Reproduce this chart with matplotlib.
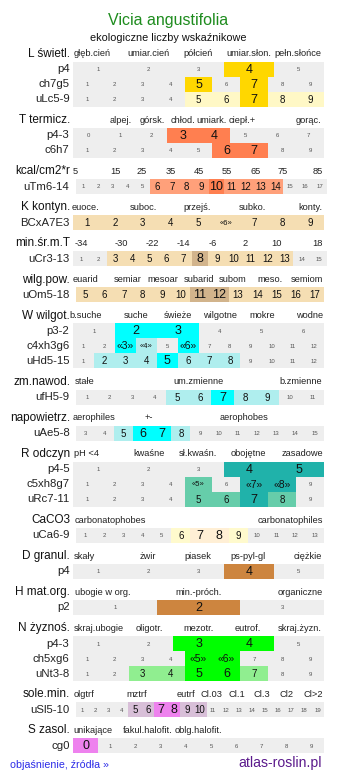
import numpy as np
import matplotlib.pyplot as plt

plt.rcParams['font.family'] = ['Liberation Sans', 'DejaVu Sans']

#%% data

title = 'Vicia angustifolia'
subtitle = 'ekologiczne liczby wskaźnikowe'

group_names = ['L świetl.', 'T termicz.', 'kcal/cm2*r', 'K kontyn.', 'min.śr.m.T',
               'wilg.pow.', 'W wilgot.', 'zm.nawod.', 'napowietrz.', 'R odczyn',
               'CaCO3', 'D granul.', 'H mat.org.', 'N żyznoś.', 'sole.min.', 'S zasol.']

group_ticks = [
    ['głęb.cień', 'umiar.cień', 'półcień', 'umiar.słon.', 'pełn.słońce'],
    ['alpej.', 'górsk.', 'chłod.', 'umiark.', 'ciepł.+', 'gorąc.'],
    ['5', '15', '25', '35', '45', '55', '65', '75', '85'],
    ['euoce.', 'suboc.', 'przejś.', 'subko.', 'konty.'],
    ['-34', '-30', '-22', '-14', '-6', '2', '10', '18'],
    ['euarid', 'semiar', 'mesoar', 'subarid', 'subom', 'meso.', 'semiom'],
    ['b.suche', 'suche', 'świeże', 'wilgotne', 'mokre', 'wodne'],
    ['stałe', 'um.zmienne', 'b.zmienne'],
    ['aerophiles', '+-', 'aerophobes'],
    ['pH <4', 'kwaśne', 'sł.kwaśn.', 'obojętne', 'zasadowe'],
    ['carbonatophobes', 'carbonatophiles'],
    ['skały', 'żwir', 'piasek', 'ps-pyl-gl', 'ciężkie'],
    ['ubogie w org.', 'min.-próch.', 'organiczne'],
    ['skraj.ubogie', 'oligotr.', 'mezotr.', 'eutrof.', 'skraj.żyzn.'],
    ['olgtrf', 'mztrf', 'eutrf', 'Cl.03', 'Cl.1', 'Cl.3', 'Cl2', 'Cl>2'],
    ['unikające', 'fakul.halofit.', 'oblg.halofit.'],
]

# x centres of the header words (pixels)
group_tick_x = [
    [92.5, 148, 198, 249, 298],
    [121, 152, 183, 212, 242, 309],
    [75.5, 115, 142, 171, 199, 227, 256, 283, 318],
    [86, 143, 197.5, 252, 310],
    [81, 121, 152, 183, 213, 245, 276, 317],
    [85.5, 128, 163, 199, 232.5, 270.5, 307],
    [86, 136, 177.5, 220, 262, 310],
    [84.7, 199, 300.5],
    [94, 149, 244],
    [86, 149, 198, 248, 302],
    [110, 290],
    [84.7, 148, 198, 248, 308],
    [102.5, 199, 300],
    [99, 149, 198.5, 248, 300],
    [84.5, 136.7, 186, 211, 236.7, 261.7, 286, 313],
    [93, 148, 198],
]

row_group = [0, 0, 0, 1, 1, 2, 3, 4, 5, 6, 6, 6, 7, 8, 9, 9, 9, 10, 11, 12, 13, 13, 13, 14, 15]
row_names = ['p4', 'ch7g5', 'uLc5-9', 'p4-3', 'c6h7', 'uTm6-14', 'BCxA7E3', 'uCr3-13',
             'uOm5-18', 'p3-2', 'c4xh3g6', 'uHd5-15', 'ufH5-9', 'uAe5-8', 'p4-5',
             'c5xh8g7', 'uRc7-11', 'uCa6-9', 'p4', 'p2', 'p4-3', 'ch5xg6', 'uNt3-8',
             'uSl5-10', 'cg0']
row_first = [1, 1, 1, 0, 1, 1, 1, 1, 5, 1, 1, 1, 1, 3, 1, 1, 1, 1, 1, 1, 1, 1, 1, 1, 0]
row_count = [5, 9, 9, 8, 9, 17, 9, 15, 13, 6, 12, 12, 11, 13, 5, 9, 9, 13, 5, 3, 5, 9, 9, 19, 10]
row_light = [[], [], [5, 6, 8, 9], [], [], [6, 7, 8, 9, 11, 12, 13, 14],
             [1, 2, 3, 4, 5, 6, 7, 8, 9], [3, 4, 5, 6, 7, 9, 10, 11, 12, 13],
             [5, 6, 7, 8, 9, 10, 13, 14, 15, 16, 17], [], [4], [2, 3, 4, 6, 7, 8],
             [5, 6, 8, 9], [5, 8], [], [5], [5, 6, 8], [6, 9], [], [], [], [],
             [3, 4, 7], [5, 6, 9, 10], []]
row_strong = [[4], [5, 7], [7], [3, 4], [6, 7], [10], [], [8], [11, 12], [2, 3],
              [3, 6], [5], [7], [6, 7], [4, 5], [7, 8], [7], [7, 8], [4], [2],
              [3, 4], [5, 6], [5, 6], [7, 8], [0]]
row_quoted = {6: [6], 10: [3, 4, 6], 15: [5, 7, 8], 21: [5, 6]}

# (light, strong) colour per group
group_colors = [('#FFF8C6', '#FFD700'), ('#FFA07A', '#FF7F50'), ('#FFA07A', '#FF7F50'),
                ('#F5DEB3', '#D2B48C'), ('#F5DEB3', '#D2B48C'), ('#F5DEB3', '#D2B48C'),
                ('#AFEEEE', '#00FFFF'), ('#AFEEEE', '#00FFFF'), ('#AFEEEE', '#00FFFF'),
                ('#66CDAA', '#20B2AA'), ('#FFFACD', '#FFEFD5'), ('#CD853F', '#CD853F'),
                ('#CD853F', '#CD853F'), ('#90EE90', '#00FF00'), ('#D8BFD8', '#EE82EE'),
                ('#EE82EE', '#EE82EE')]

#%% layout

W, H = 337, 781
span_default = (73, 324)
span_over = {'uTm6-14': (76, 327), 'uCr3-13': (73, 327), 'uOm5-18': (76, 324),
             'ufH5-9': (76, 324), 'uAe5-8': (76, 324), 'uCa6-9': (76, 324),
             'uSl5-10': (76, 324)}
row_h = 15.0
grey = '#EEEEEE'

fig = plt.figure(figsize=(W / 100, H / 100), dpi=100)
ax = fig.add_axes([0, 0, 1, 1])
ax.set_xlim(0, W)
ax.set_ylim(H, 0)
ax.axis('off')

ax.text(W / 2, 20, title, color='#1E8C1E', fontsize=11.5, ha='center', va='center')
ax.text(W / 2, 38, subtitle, color='#111111', fontsize=7.8, ha='center', va='center')

y = 54.0
row_y = {}
for g, gname in enumerate(group_names):
    ax.text(70, y, gname, fontsize=8.5, ha='right', va='center', color='#111111')
    for t, tx in zip(group_ticks[g], group_tick_x[g]):
        ax.text(tx, y, t, fontsize=6.7, ha='center', va='center', color='#222222')
    rows = [i for i, rg in enumerate(row_group) if rg == g]
    yr = y + 15.3
    for i in rows:
        row_y[i] = yr
        yr += row_h
    y = yr - row_h + 20.8

for i, name in enumerate(row_names):
    yc = row_y[i]
    light_c, strong_c = group_colors[row_group[i]]
    x0, x1 = span_over.get(name, span_default)
    n = row_count[i]
    cw = (x1 - x0) / n
    vals = np.arange(row_first[i], row_first[i] + n)
    cols = []
    for v in vals:
        if v in row_strong[i]:
            cols.append(strong_c)
        elif v in row_light[i]:
            cols.append(light_c)
        else:
            cols.append(grey)
    lefts = x0 + cw * np.arange(n)
    ax.barh(np.full(n, yc), cw + 0.3, left=lefts, height=row_h, color=cols, linewidth=0)
    ax.text(69.5, yc, name, fontsize=8.2, ha='right', va='center', color='#222222')
    quoted = row_quoted.get(i, [])
    for v, lx in zip(vals, lefts):
        cx = lx + cw / 2
        if v in quoted:
            lab = '«%d»' % v
            fs = 7.5 if v in row_strong[i] else 5.5
        else:
            lab = str(v)
            fs = 9 if v in row_strong[i] else (7 if v in row_light[i] else 4.3)
        col = '#555555' if fs < 5 else '#111111'
        ax.text(cx, yc + 0.5, lab, fontsize=fs, ha='center', va='center', color=col)

ax.text(10, 765, 'objaśnienie, źródła »', color='#2B2BE8', fontsize=7.7, ha='left', va='center')
ax.text(322, 763, 'atlas-roslin.pl', color='#5B1A8C', fontsize=10.1, ha='right', va='center')

fig.savefig('out.png', dpi=100)
